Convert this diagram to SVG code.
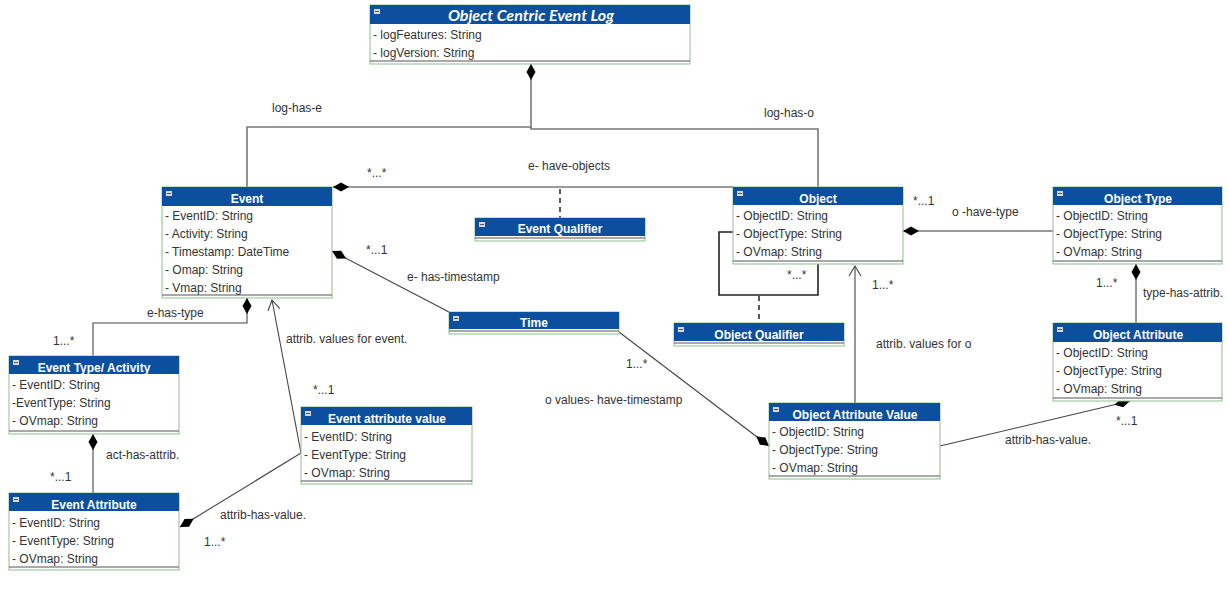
<svg xmlns="http://www.w3.org/2000/svg" width="1228" height="590" viewBox="0 0 1228 590">
  <defs>
    <style>
      .body { fill: #ffffff; stroke: #8fbf8f; stroke-width: 1; }
      .head { fill: #0b4f9e; }
      .icon { fill: #d8d8d8; }
      .iconbar { stroke: #555; stroke-width: 1; }
      .sep { stroke: #555; stroke-width: 1.2; }
      .title { font-family: "Liberation Sans", Arial, sans-serif; font-size: 12px; font-weight: bold; fill: #ffffff; text-anchor: middle; }
      .logtitle { font-family: Lato, "Open Sans", sans-serif; font-size: 16px; font-weight: bold; font-style: italic; fill: #ffffff; text-anchor: middle; }
      .attr { font-family: "Liberation Sans", Arial, sans-serif; font-size: 12px; fill: #333333; }
      .lbl { font-family: "Liberation Sans", Arial, sans-serif; font-size: 12px; fill: #333333; }
      .conn { fill: none; stroke: #444; stroke-width: 1.1; }
      .logline { fill: none; stroke: #777; stroke-width: 1.6; }
      .dash { fill: none; stroke: #222; stroke-width: 1.5; stroke-dasharray: 5 4; }
      .loop { fill: none; stroke: #222; stroke-width: 1.6; }
    </style>
    <marker id="diamond" markerUnits="userSpaceOnUse" markerWidth="18" markerHeight="10" viewBox="0 -5 18 10" refX="0" refY="0" orient="auto">
      <path d="M0,0 L8,-4.5 L16,0 L8,4.5 Z" fill="#000"/>
    </marker>
    <marker id="openArrow" markerUnits="userSpaceOnUse" markerWidth="14" markerHeight="14" viewBox="-12 -7 14 14" refX="0" refY="0" orient="auto">
      <path d="M-10,-6 L0,0 L-10,6" fill="none" stroke="#444" stroke-width="1.1"/>
    </marker>
    <g id="collapse">
      <rect class="icon" x="0" y="0" width="6" height="5"/>
      <line class="iconbar" x1="1" y1="2.5" x2="5" y2="2.5"/>
    </g>
  </defs>

  <rect width="1228" height="590" fill="#ffffff"/>

  <!-- connectors -->
  <g id="connectors">
    <path class="logline" d="M531,64 V127 H247 V187" marker-start="url(#diamond)"/>
    <path class="logline" d="M531,127 V129 H818 V187"/>
    <path class="logline" d="M333,187 H733" marker-start="url(#diamond)"/>
    <path class="dash" d="M560,189 V218"/>
    <path class="loop" d="M733,232 H719 V295 H818 V264"/>
    <path class="dash" d="M759,296 V323"/>
    <path class="logline" d="M903,231 H1053" marker-start="url(#diamond)"/>
    <path class="conn" d="M1136,264 V323" marker-start="url(#diamond)"/>
    <path class="conn" d="M1130,401 L940,446" marker-start="url(#diamond)"/>
    <path class="conn" d="M855,403 V266" marker-end="url(#openArrow)"/>
    <path class="conn" d="M332,251 L449,312" marker-start="url(#diamond)"/>
    <path class="conn" d="M769,446 L619,332" marker-start="url(#diamond)"/>
    <path class="conn" d="M247,298 V323 H93 V356" marker-start="url(#diamond)"/>
    <path class="conn" d="M93,434 V493" marker-start="url(#diamond)"/>
    <path class="conn" d="M180,527 L301,453" marker-start="url(#diamond)"/>
    <path class="conn" d="M301,453 L272,300" marker-end="url(#openArrow)"/>

    <text class="lbl" x="272" y="112">log-has-e</text>
    <text class="lbl" x="764" y="117">log-has-o</text>
    <text class="lbl" x="367" y="177">*...*</text>
    <text class="lbl" x="528" y="170">e- have-objects</text>
    <text class="lbl" x="913" y="205">*...1</text>
    <text class="lbl" x="952" y="216">o -have-type</text>
    <text class="lbl" x="787" y="279">*...*</text>
    <text class="lbl" x="872" y="289">1...*</text>
    <text class="lbl" x="876" y="348">attrib. values for o</text>
    <text class="lbl" x="1096" y="287">1...*</text>
    <text class="lbl" x="1143" y="297">type-has-attrib.</text>
    <text class="lbl" x="1116" y="425">*...1</text>
    <text class="lbl" x="1005" y="444">attrib-has-value.</text>
    <text class="lbl" x="366" y="254">*...1</text>
    <text class="lbl" x="407" y="281">e- has-timestamp</text>
    <text class="lbl" x="626" y="368">1...*</text>
    <text class="lbl" x="545" y="404">o values- have-timestamp</text>
    <text class="lbl" x="286" y="343">attrib. values for event.</text>
    <text class="lbl" x="313" y="394">*...1</text>
    <text class="lbl" x="147" y="317">e-has-type</text>
    <text class="lbl" x="53" y="345">1...*</text>
    <text class="lbl" x="106" y="459">act-has-attrib.</text>
    <text class="lbl" x="50" y="481">*...1</text>
    <text class="lbl" x="220" y="519">attrib-has-value.</text>
    <text class="lbl" x="204" y="546">1...*</text>
  </g>

  <!-- classes -->
  <g id="object-centric-event-log" transform="translate(370,5)">
    <rect class="body" x="0" y="0" width="320" height="59"/>
    <rect class="head" x="0" y="0" width="320" height="19"/>
    <use href="#collapse" x="4" y="4"/>
    <text class="logtitle" x="161" y="16">Object Centric Event Log</text>
    <text class="attr" x="3" y="34">- logFeatures: String</text>
    <text class="attr" x="3" y="52">- logVersion: String</text>
    <line class="sep" x1="0" y1="56" x2="320" y2="56"/>
  </g>

  <g id="event" transform="translate(162,187)">
    <rect class="body" x="0" y="0" width="170" height="111"/>
    <rect class="head" x="0" y="0" width="170" height="19"/>
    <use href="#collapse" x="4" y="4"/>
    <text class="title" x="85" y="16">Event</text>
    <text class="attr" x="3" y="33">- EventID: String</text>
    <text class="attr" x="3" y="51">- Activity: String</text>
    <text class="attr" x="3" y="69">- Timestamp: DateTime</text>
    <text class="attr" x="3" y="87">- Omap: String</text>
    <text class="attr" x="3" y="105">- Vmap: String</text>
    <line class="sep" x1="0" y1="108" x2="170" y2="108"/>
  </g>

  <g id="event-qualifier" transform="translate(475,218)">
    <rect class="body" x="0" y="0" width="170" height="23"/>
    <rect class="head" x="0" y="0" width="170" height="18"/>
    <use href="#collapse" x="4" y="4"/>
    <text class="title" x="85" y="15">Event Qualifier</text>
    <line class="sep" x1="0" y1="20" x2="170" y2="20"/>
  </g>

  <g id="object" transform="translate(733,187)">
    <rect class="body" x="0" y="0" width="170" height="77"/>
    <rect class="head" x="0" y="0" width="170" height="18"/>
    <use href="#collapse" x="4" y="4"/>
    <text class="title" x="85" y="16">Object</text>
    <text class="attr" x="3" y="33">- ObjectID: String</text>
    <text class="attr" x="3" y="51">- ObjectType: String</text>
    <text class="attr" x="3" y="69">- OVmap: String</text>
    <line class="sep" x1="0" y1="74" x2="170" y2="74"/>
  </g>

  <g id="object-qualifier" transform="translate(674,323)">
    <rect class="body" x="0" y="0" width="170" height="23"/>
    <rect class="head" x="0" y="0" width="170" height="18"/>
    <use href="#collapse" x="4" y="4"/>
    <text class="title" x="85" y="16">Object Qualifier</text>
    <line class="sep" x1="0" y1="20" x2="170" y2="20"/>
  </g>

  <g id="object-type" transform="translate(1053,187)">
    <rect class="body" x="0" y="0" width="169" height="77"/>
    <rect class="head" x="0" y="0" width="169" height="18"/>
    <use href="#collapse" x="4" y="4"/>
    <text class="title" x="85" y="16">Object  Type</text>
    <text class="attr" x="3" y="33">- ObjectID: String</text>
    <text class="attr" x="3" y="51">- ObjectType: String</text>
    <text class="attr" x="3" y="69">- OVmap: String</text>
    <line class="sep" x1="0" y1="74" x2="169" y2="74"/>
  </g>

  <g id="object-attribute" transform="translate(1053,323)">
    <rect class="body" x="0" y="0" width="169" height="78"/>
    <rect class="head" x="0" y="0" width="169" height="19"/>
    <use href="#collapse" x="4" y="4"/>
    <text class="title" x="85" y="16">Object Attribute</text>
    <text class="attr" x="3" y="34">- ObjectID: String</text>
    <text class="attr" x="3" y="52">- ObjectType: String</text>
    <text class="attr" x="3" y="70">- OVmap: String</text>
    <line class="sep" x1="0" y1="75" x2="169" y2="75"/>
  </g>

  <g id="object-attribute-value" transform="translate(769,403)">
    <rect class="body" x="0" y="0" width="171" height="76"/>
    <rect class="head" x="0" y="0" width="171" height="18"/>
    <use href="#collapse" x="4" y="4"/>
    <text class="title" x="86" y="16">Object Attribute Value</text>
    <text class="attr" x="3" y="33">- ObjectID: String</text>
    <text class="attr" x="3" y="51">- ObjectType: String</text>
    <text class="attr" x="3" y="69">- OVmap: String</text>
    <line class="sep" x1="0" y1="73" x2="171" y2="73"/>
  </g>

  <g id="time" transform="translate(449,312)">
    <rect class="body" x="0" y="0" width="170" height="22"/>
    <rect class="head" x="0" y="0" width="170" height="17"/>
    <use href="#collapse" x="4" y="4"/>
    <text class="title" x="85" y="15">Time</text>
    <line class="sep" x1="0" y1="19" x2="170" y2="19"/>
  </g>

  <g id="event-type-activity" transform="translate(9,356)">
    <rect class="body" x="0" y="0" width="170" height="78"/>
    <rect class="head" x="0" y="0" width="170" height="18"/>
    <use href="#collapse" x="4" y="4"/>
    <text class="title" x="85" y="16">Event Type/ Activity</text>
    <text class="attr" x="3" y="33">- EventID: String</text>
    <text class="attr" x="3" y="51">-EventType: String</text>
    <text class="attr" x="3" y="69">- OVmap: String</text>
    <line class="sep" x1="0" y1="75" x2="170" y2="75"/>
  </g>

  <g id="event-attribute" transform="translate(9,493)">
    <rect class="body" x="0" y="0" width="170" height="77"/>
    <rect class="head" x="0" y="0" width="170" height="18"/>
    <use href="#collapse" x="4" y="4"/>
    <text class="title" x="85" y="16">Event Attribute</text>
    <text class="attr" x="3" y="34">- EventID: String</text>
    <text class="attr" x="3" y="52">- EventType: String</text>
    <text class="attr" x="3" y="70">- OVmap: String</text>
    <line class="sep" x1="0" y1="74" x2="170" y2="74"/>
  </g>

  <g id="event-attribute-value" transform="translate(301,407)">
    <rect class="body" x="0" y="0" width="171" height="77"/>
    <rect class="head" x="0" y="0" width="171" height="18"/>
    <use href="#collapse" x="4" y="4"/>
    <text class="title" x="86" y="16">Event attribute value</text>
    <text class="attr" x="3" y="34">- EventID: String</text>
    <text class="attr" x="3" y="52">- EventType: String</text>
    <text class="attr" x="3" y="70">- OVmap: String</text>
    <line class="sep" x1="0" y1="74" x2="171" y2="74"/>
  </g>
</svg>
